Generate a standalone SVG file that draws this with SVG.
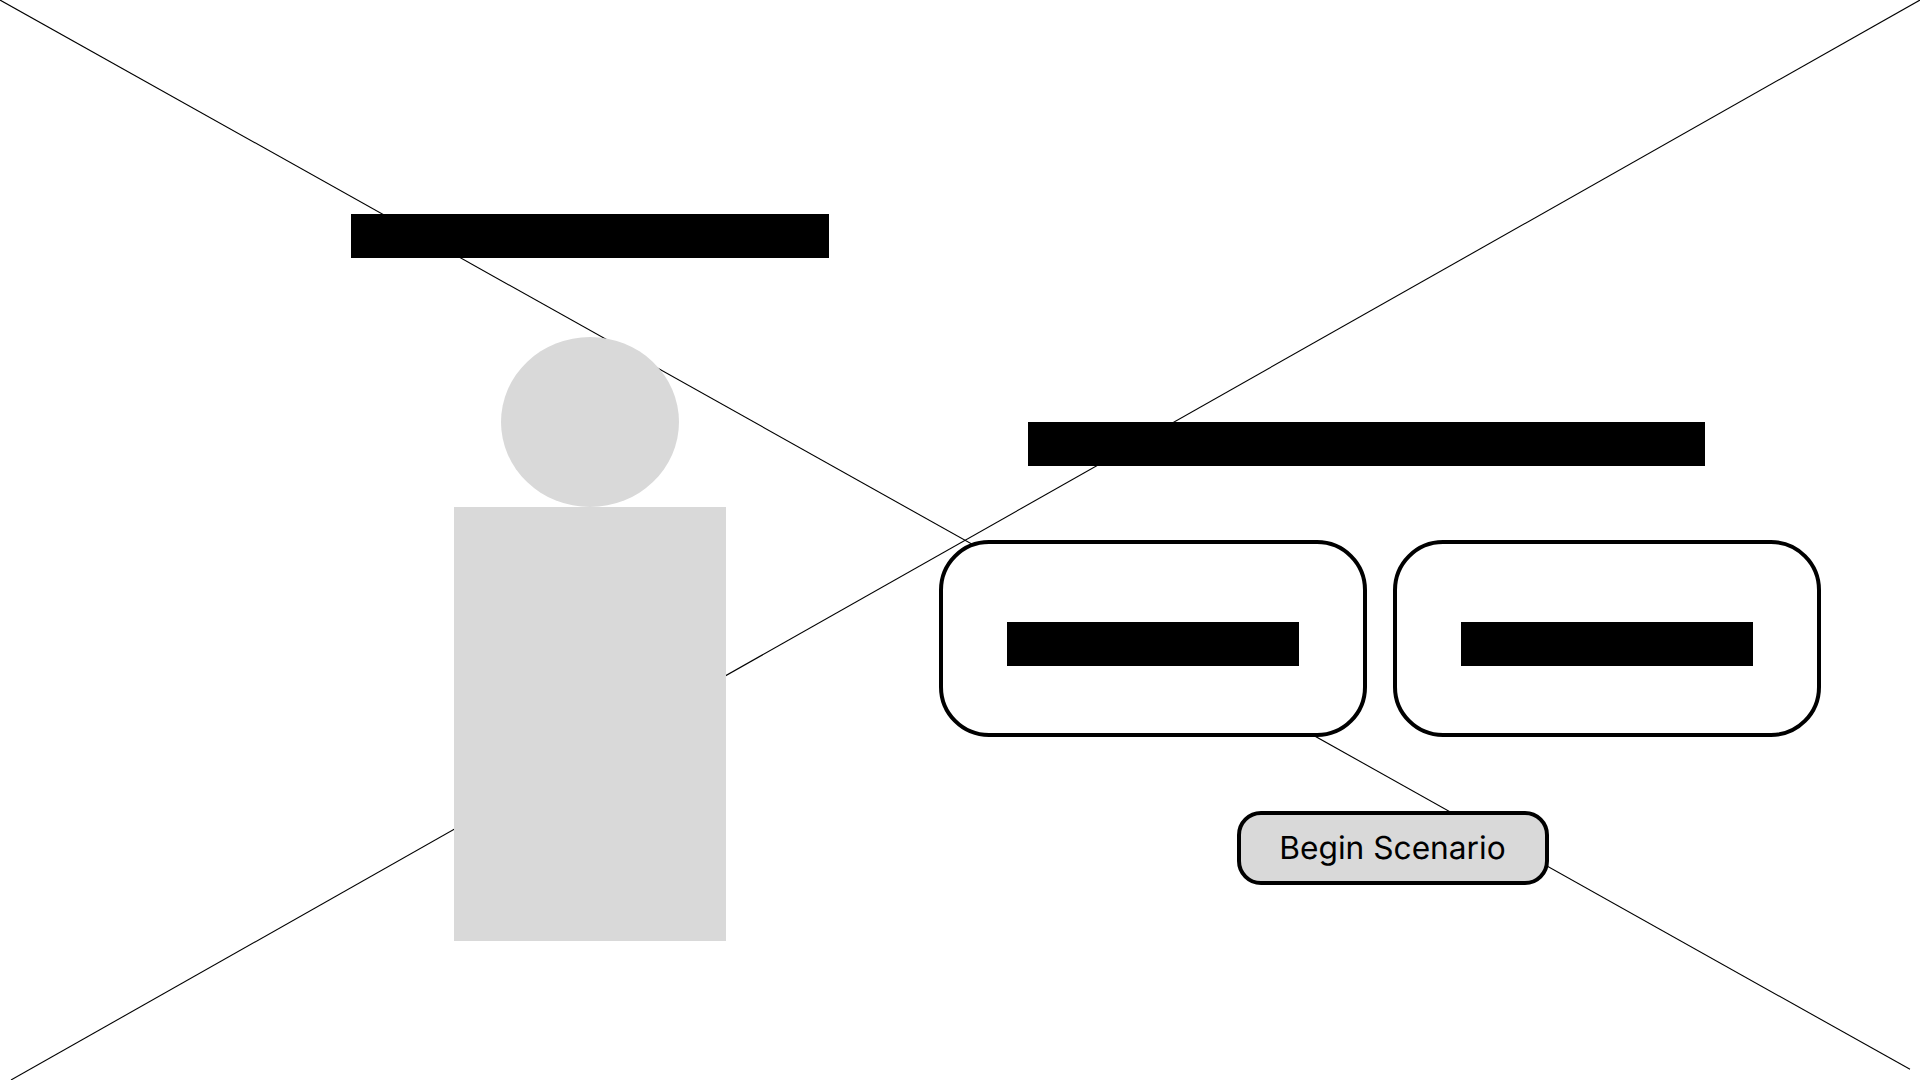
<svg xmlns="http://www.w3.org/2000/svg" width="1920" height="1080" viewBox="0 0 1920 1080">
<style>
.cross{stroke:#000;stroke-width:1.1;fill:none}
.bar{fill:#000}
.grey{fill:#D9D9D9}
.card{fill:#fff;stroke:#000;stroke-width:4}
.btn{fill:#D9D9D9;stroke:#000;stroke-width:4}
.lbl{font-family:Inter,"Liberation Sans",sans-serif;font-size:31.7px;font-weight:400;fill:#000;text-anchor:middle;text-rendering:geometricPrecision}
</style>
<rect width="1920" height="1080" fill="#fff"/>
<g id="connectors">
<line class="cross" x1="0" y1="0" x2="1910" y2="1069.3"/>
<line class="cross" x1="1920" y1="0" x2="11" y2="1080"/>
</g>
<g id="title-left"><rect class="bar" x="351" y="214" width="478" height="44"/></g>
<g id="figure"><ellipse class="grey" cx="590" cy="422" rx="89" ry="85"/><rect class="grey" x="454" y="507" width="272" height="434"/></g>
<g id="title-right"><rect class="bar" x="1028" y="422" width="677" height="44"/></g>
<g id="card-1"><rect class="card" x="941" y="542" width="424" height="193" rx="48"/><rect class="bar" x="1007" y="622" width="292" height="44"/></g>
<g id="card-2"><rect class="card" x="1395" y="542" width="424" height="193" rx="48"/><rect class="bar" x="1461" y="622" width="292" height="44"/></g>
<g id="begin-scenario"><rect class="btn" x="1239" y="813" width="308" height="70" rx="22"/><text class="lbl" x="1392.5" y="859">Begin Scenario</text></g>
</svg>
